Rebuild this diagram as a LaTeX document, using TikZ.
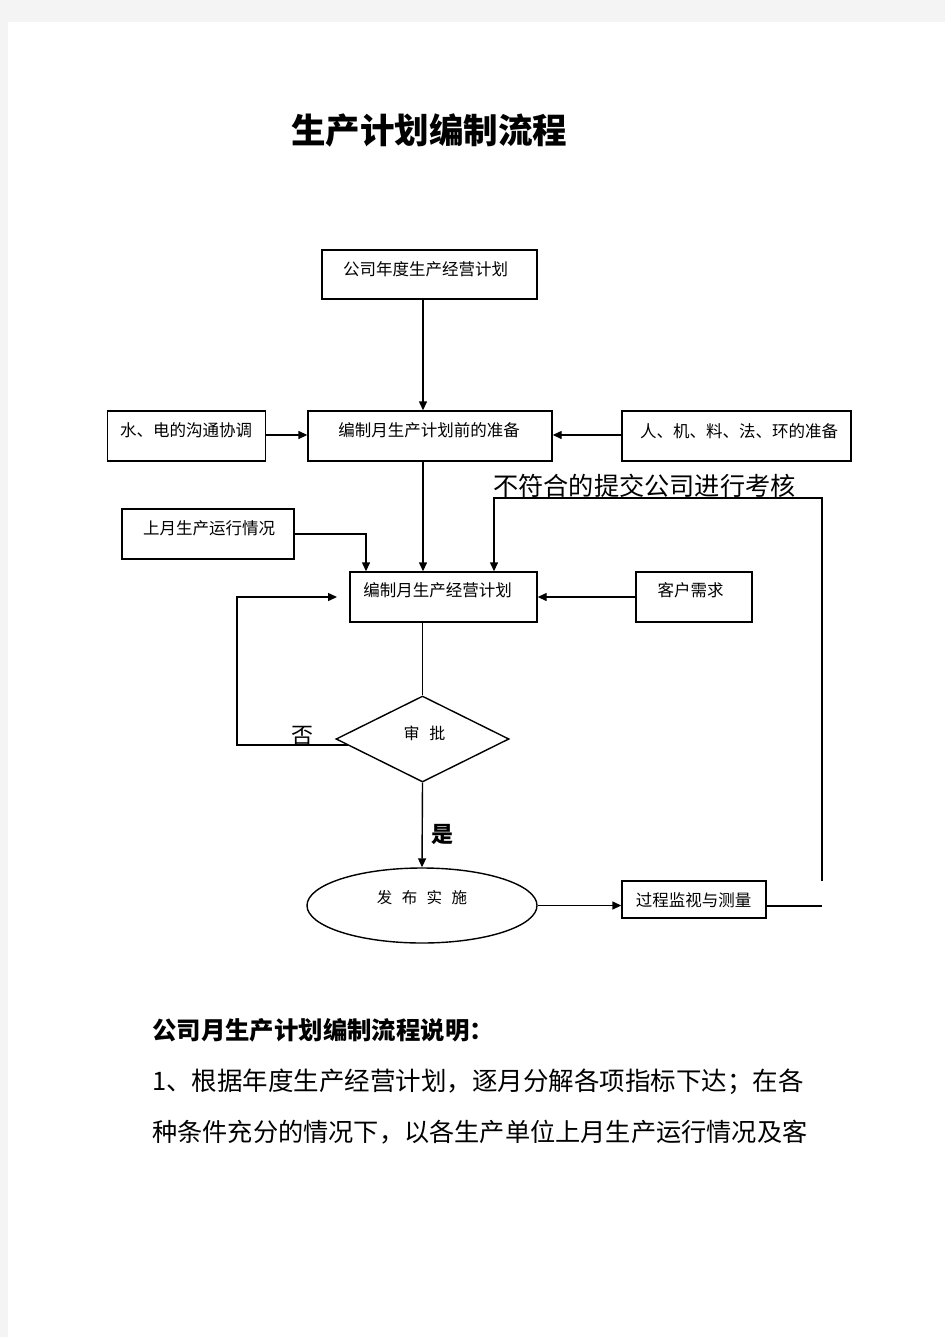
\documentclass[tikz,border=0pt]{standalone}
\usepackage{fontspec}
\usetikzlibrary{arrows.meta,shapes.geometric}
\newfontfamily\cjk{Noto Sans CJK SC}
\newcommand{\fs}[1]{\fontsize{#1}{#1}\selectfont}
\tikzset{
  box/.style={draw=black, line width=1.4pt, rectangle, inner sep=0pt},
  lbl/.style={inner sep=0pt, font=\cjk\fs{16.5}},
  conn/.style={draw=black, line width=1.4pt},
  arr/.style={conn, -{Triangle[length=9pt,width=8pt]}},
}
\begin{document}
\begin{tikzpicture}[x=1pt,y=-1pt]
\useasboundingbox (0,0) rectangle (945,1337);
\fill[fill={rgb,255:red,244;green,244;blue,244}] (0,0) rectangle (945,1337);
\fill[white] (8,22) rectangle (945,1337);

% title
\node[inner sep=0pt, font=\cjk\bfseries\fs{34.5}] (title) at (429,130) {生产计划编制流程};

% boxes
\node[box, minimum width=215pt, minimum height=49pt] (b1) at (429.5,274.5) {};
\node[lbl] (t1) at (425.5,269) {公司年度生产经营计划};

\node[box, minimum width=158pt, minimum height=50pt] (water) at (186.5,436) {};
\node[lbl] (t2) at (186,430) {水、电的沟通协调};

\node[box, minimum width=244pt, minimum height=50pt] (prep) at (430,436) {};
\node[lbl] (t3) at (429,430) {编制月生产计划前的准备};

\node[box, minimum width=229pt, minimum height=50pt] (rjl) at (736.5,436) {};
\node[lbl] (t4) at (739,431) {人、机、料、法、环的准备};

\node[box, minimum width=172pt, minimum height=50pt] (last) at (208,534) {};
\node[lbl] (t5) at (209,528) {上月生产运行情况};

\node[box, minimum width=187pt, minimum height=50pt] (plan) at (443.5,597) {};
\node[lbl] (t6) at (437.5,590) {编制月生产经营计划};

\node[box, minimum width=116pt, minimum height=50pt] (cust) at (694,597) {};
\node[lbl] (t7) at (690.5,590) {客户需求};

\node[draw=black, line width=1.4pt, diamond, aspect=2, minimum width=173pt, minimum height=86pt, inner sep=0pt] (dia) at (422.5,739) {};
\node[lbl, font=\cjk\fs{16}] (t8) at (424.5,733) {审 \hspace{6pt}批};

\node[draw=black, line width=1.4pt, ellipse, minimum width=230pt, minimum height=75pt, inner sep=0pt] (ell) at (422,905.5) {};
\node[lbl, font=\cjk\fs{15.5}] (t9) at (422,898) {发 \hspace{6pt}布 \hspace{6pt}实 \hspace{6pt}施};

\node[box, minimum width=144pt, minimum height=37pt] (proc) at (694,899.5) {};
\node[lbl] (t10) at (693.5,900) {过程监视与测量};

% labels
\node[inner sep=0pt, anchor=base west, font=\cjk\fs{25.2}] (fb) at (493,495) {不符合的提交公司进行考核};
\node[inner sep=0pt, font=\cjk\fs{22}] (no) at (302,736) {否};
\node[inner sep=0pt, font=\cjk\bfseries\fs{22}] (yes) at (442,834) {是};

% coordinates
\coordinate (mx) at (423,0);
\coordinate (lx) at (366,0);
\coordinate (rx) at (494,0);
\coordinate (f1) at (822,906);
\coordinate (f2) at (822,881);
\coordinate (f3) at (822,498);
\coordinate (f4) at (494,498);
\coordinate (d1) at (348,745);
\coordinate (d2) at (237,745);
\coordinate (d3) at (237,597);
\coordinate (d4) at (337,597);

% connectors
\draw[arr] (b1.south -| mx) -- (prep.north -| mx);
\draw[arr] (water.east |- 0,435) -- (prep.west |- 0,435);
\draw[arr] (rjl.west |- 0,435) -- (prep.east |- 0,435);
\draw[arr] (prep.south -| mx) -- (plan.north -| mx);
\draw[arr] (last.east) -| (plan.north -| lx);
\draw[arr] (cust.west) -- (plan.east);
\draw[conn] (proc.east |- f1) -- (f1);
\draw[arr] (f2) -- (f3) -- (f4) -- (plan.north -| rx);
\draw[conn] (plan.south -| dia.north) -- (dia.north);
\draw[arr] (dia.south) -- (ell.north);
\draw[arr] (d1) -- (d2) -- (d3) -- (d4);
\draw[arr] (ell.east) -- (proc.west |- ell.east);

% description
\node[inner sep=0pt, anchor=west, font=\cjk\bfseries\fs{24.4}] (h1) at (152,1030) {公司月生产计划编制流程说明：};
\node[inner sep=0pt, anchor=west, font=\cjk\fs{25.5}] (p1) at (152,1082) {1、根据年度生产经营计划，逐月分解各项指标下达；在各};
\node[inner sep=0pt, anchor=west, font=\cjk\fs{25.2}] (p2) at (152,1132) {种条件充分的情况下，以各生产单位上月生产运行情况及客};
\end{tikzpicture}
\end{document}
